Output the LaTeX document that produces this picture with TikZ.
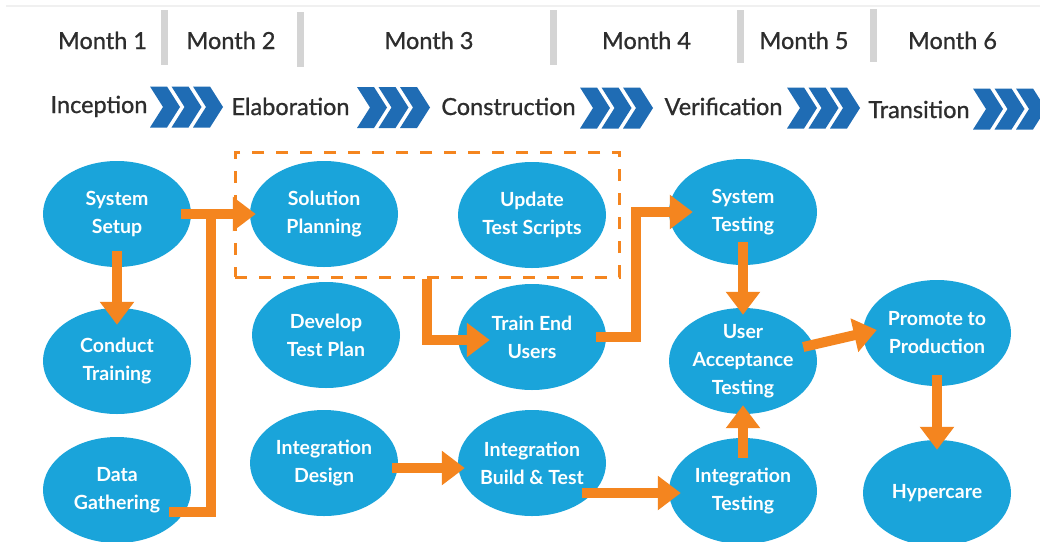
\documentclass[tikz,border=0pt]{standalone}
\usepackage{fontspec}
\setmainfont{Lato}
\newfontfamily\headfont{Lato}[FakeBold=0.9]
\usetikzlibrary{shapes.geometric,arrows.meta}
\definecolor{nodeblue}{RGB}{26,164,218}
\definecolor{flowor}{RGB}{244,133,31}
\definecolor{chevblue}{RGB}{31,108,180}
\definecolor{sepgray}{RGB}{212,212,212}
\definecolor{hdrtext}{RGB}{45,45,45}
\begin{document}
\begin{tikzpicture}[x=1pt,y=-1pt,
  blob/.style={ellipse, fill=nodeblue, minimum width=148pt, minimum height=106pt,
    inner sep=0pt, text=white, align=center,
    font=\fontsize{19.5}{28}\selectfont\bfseries},
  flow/.style={draw=flowor, line width=10pt, -{Triangle[length=23pt,width=33pt]}},
  flowline/.style={draw=flowor, line width=10pt},
  hdr/.style={font=\headfont\fontsize{23.5}{26}\selectfont, text=hdrtext, anchor=base, inner sep=0pt},
  sepbar/.style={draw=sepgray, line width=7pt},
  grpbox/.style={draw=flowor, line width=3pt, dash pattern=on 12pt off 12pt,
    minimum width=384pt, minimum height=125pt, inner sep=0pt},
  chevron/.pic={
    \foreach \d in {0,21.5,43}
      \fill[chevblue] (\d,-20.5) -- ++(17,0) -- ++(13,20.5) -- ++(-13,20.5)
        -- ++(-17,0) -- ++(13,-20.5) -- cycle;
  }
]
\clip (0,0) rectangle (1040,541);
\fill[white] (0,0) rectangle (1040,541);

% top rule and month separators
\draw[black!6, line width=1.5pt] (6,6) -- (1040,6);
\foreach \x/\a/\b in {164.5/10/65, 300.5/12/67, 553/10/65, 740/10/63, 873/9/62}
  \draw[sepbar] (\x,\a) -- (\x,\b);

% month labels
\node[hdr] (m1) at (102.5,49) {Month 1};
\node[hdr] (m2) at (231,49) {Month 2};
\node[hdr] (m3) at (429,49) {Month 3};
\node[hdr] (m4) at (646.5,49) {Month 4};
\node[hdr] (m5) at (804,49) {Month 5};
\node[hdr] (m6) at (952.5,49) {Month 6};

% phases with chevron groups
\node[hdr] (p1) at (99,113) {Inception};
\node[hdr] (p2) at (290.5,115) {Elaboration};
\node[hdr] (p3) at (508.5,115) {Construction};
\node[hdr] (p4) at (723.5,115) {Verification};
\node[hdr] (p5) at (919,118) {Transition};
\pic at (150,107) {chevron};
\pic at (357,107.5) {chevron};
\pic at (580,108) {chevron};
\pic at (787,108) {chevron};
\pic at (973,109) {chevron};

% grouped planning tasks
\node[grpbox] (grp) at (427,214.5) {};

% activities
\node[blob] (setup)    at (117,214) {System\\Setup};
\node[blob] (training) at (117,361) {Conduct\\Training};
\node[blob] (gather)   at (117,490) {Data\\Gathering};
\node[blob] (plan)     at (324,214) {Solution\\Planning};
\node[blob] (devplan)  at (326,335) {Develop\\Test Plan};
\node[blob] (intdes)   at (324,463) {Integration\\Design};
\node[blob] (scripts)  at (532,215) {Update\\Test Scripts};
\node[blob] (train)    at (532,337) {Train End\\Users};
\node[blob] (build)    at (532,463) {Integration\\Build \& Test};
\node[blob] (systest)  at (743,212) {System\\Testing};
\node[blob] (uat)      at (743,361) {User\\Acceptance\\Testing};
\node[blob] (inttest)  at (743,491) {Integration\\Testing};
\node[blob] (promote)  at (937,333) {Promote to\\Production};
\node[blob] (hyper)    at (937,493) {Hypercare};

% flows
\coordinate (join) at (211,215);
\draw[flowline] ([shift={(-22pt,-22pt)}]gather.east) -| (join);
\draw[flow] ([xshift=-10pt]setup.east) -- ([xshift=6pt]plan.west);
\draw[flow] ([yshift=16pt]setup.south) -- ([yshift=-17pt]training.north);
\draw[flow] (grp.south) |- ([shift={(32pt,-3pt)}]train.west);
\draw[flow] ([xshift=-10pt]train.east) -- ++(40,0) |- ([xshift=24pt]systest.west);
\draw[flow] ([yshift=23pt]systest.south) -- ([yshift=-7pt]uat.north);
\draw[flow] ([yshift=-20pt]inttest.north) -- ([yshift=9pt]uat.south);
\draw[flow] ([shift={(-14pt,14pt)}]uat.east) -- ([shift={(14pt,3pt)}]promote.west);
\draw[flow] ([yshift=11pt]promote.south) -- ([yshift=-10pt]hyper.north);
\draw[flow] ([shift={(-6pt,-5pt)}]intdes.east) -- ([shift={(7pt,-5pt)}]build.west);
\draw[flow] ([shift={(-24pt,-30pt)}]build.east) -- ([shift={(12pt,-2pt)}]inttest.west);
\end{tikzpicture}
\end{document}
